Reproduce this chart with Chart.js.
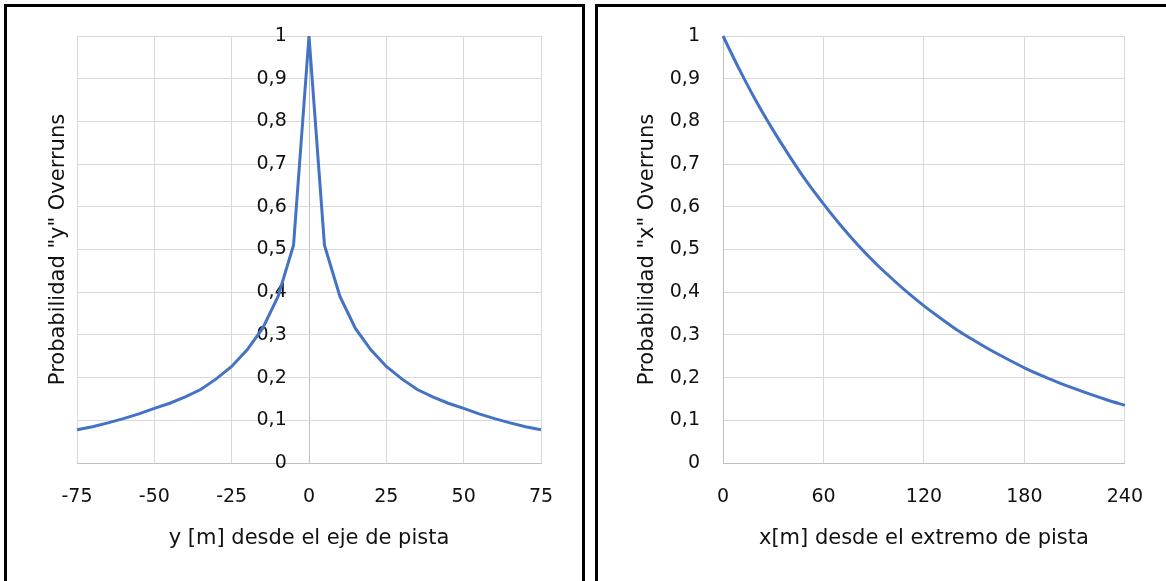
<!DOCTYPE html>
<html>
<head>
<meta charset="utf-8">
<script src="https://cdn.jsdelivr.net/npm/chart.js@4/dist/chart.umd.min.js"></script>
<style>
  html, body { margin: 0; padding: 0; background: #fff; overflow: hidden; }
  .box { position: absolute; top: 4px; border: 3px solid #000; background: #fff; }
  #boxY { left: 4px; width: 575px; height: 600px; }
  #boxX { left: 595px; width: 600px; height: 600px; }
  canvas { display: block; }
</style>
</head>
<body>
<div class="box" id="boxY"><canvas id="chartY" width="575" height="574"></canvas></div>
<div class="box" id="boxX"><canvas id="chartX" width="568" height="574"></canvas></div>
<script>
// Lateral distance from the runway centreline [m] and probability of an overrun reaching it
const lateralDist = [-75, -70, -65, -60, -55, -50, -45, -40, -35, -30, -25, -20, -15, -10, -5, 0,
                     5, 10, 15, 20, 25, 30, 35, 40, 45, 50, 55, 60, 65, 70, 75];
const lateralProb = [0.078, 0.085, 0.094, 0.104, 0.115, 0.128, 0.140, 0.155, 0.172, 0.197, 0.226, 0.265, 0.315, 0.390, 0.510, 1.000,
                     0.510, 0.390, 0.315, 0.265, 0.226, 0.197, 0.172, 0.155, 0.140, 0.128, 0.115, 0.104, 0.094, 0.085, 0.078];

// Longitudinal distance past the runway end [m] and probability of an overrun reaching it
const longDist = [0, 10, 20, 30, 40, 50, 60, 70, 80, 90, 100, 110, 120,
                  130, 140, 150, 160, 170, 180, 190, 200, 210, 220, 230, 240];
const longProb = [1.000, 0.920, 0.846, 0.779, 0.717, 0.659, 0.607, 0.558, 0.513, 0.472, 0.435, 0.400, 0.368,
                  0.339, 0.311, 0.287, 0.264, 0.243, 0.223, 0.205, 0.189, 0.174, 0.160, 0.147, 0.135];

// Axis tick values
const probTicks = [0, 0.1, 0.2, 0.3, 0.4, 0.5, 0.6, 0.7, 0.8, 0.9, 1];
const lateralTicks = [-75, -50, -25, 0, 25, 50, 75];
const longTicks = [0, 60, 120, 180, 240];

const yTitleLateral = 'Probabilidad "y" Overruns';
const yTitleLong = 'Probabilidad "x" Overruns';
const xTitleLateral = 'y [m] desde el eje de pista';
const xTitleLong = 'x[m] desde el extremo de pista';

const FAMILY = '"DejaVu Sans", "Open Sans", sans-serif';
const TICK_FONT = { family: FAMILY, size: 19 };
const TITLE_FONT = { family: FAMILY, size: 21 };
const TEXT = '#111111';
const GRID = '#d9d9d9';
const AXIS = '#bfbfbf';
const LINE = '#4472c4';
const NONE = 'rgba(0,0,0,0)';

const commaNum = v => String(Math.round(v * 10) / 10).replace('.', ',');
const toPoints = (xs, ys) => xs.map((x, i) => ({ x: x, y: ys[i] }));
const fixedTicks = list => scale => { scale.ticks = list.map(v => ({ value: v })); };
const gridColor = c => (c.tick && c.tick.value === 0 ? AXIS : GRID);

Chart.defaults.font = TICK_FONT;
Chart.defaults.color = TEXT;

// Lateral distribution: probability labels sit just left of the centreline (y = 0)
new Chart(document.getElementById('chartY'), {
  type: 'scatter',
  data: {
    datasets: [{
      data: toPoints(lateralDist, lateralProb),
      showLine: true,
      borderColor: LINE,
      borderWidth: 3,
      pointRadius: 0,
      tension: 0,
      clip: 6
    }]
  },
  options: {
    responsive: false,
    animation: false,
    layout: { padding: { top: 29, right: 41, left: 0, bottom: 0 } },
    plugins: { legend: { display: false }, tooltip: { enabled: false } },
    scales: {
      x: {
        type: 'linear', position: 'bottom',
        min: -75, max: 75,
        afterBuildTicks: fixedTicks(lateralTicks),
        afterFit: s => { s.height = 118; },
        grid: { color: gridColor, lineWidth: 1, drawTicks: false },
        border: { display: true, color: AXIS, width: 1 },
        ticks: { padding: 23, maxRotation: 0, color: TEXT, font: TICK_FONT, callback: v => String(v) },
        title: { display: true, text: xTitleLateral, color: TEXT, font: TITLE_FONT, padding: { top: 0, bottom: 30 } }
      },
      y: {
        type: 'linear', position: { x: -7.2 },
        min: 0, max: 1,
        afterBuildTicks: fixedTicks(probTicks),
        grid: { color: gridColor, lineWidth: 1, drawTicks: false },
        border: { display: false },
        ticks: { padding: 0, color: TEXT, font: TICK_FONT, callback: commaNum }
      },
      yTitle: {
        type: 'linear', position: 'left',
        min: 0, max: 1,
        afterFit: s => { s.width = 70; },
        grid: { display: false, drawTicks: false },
        border: { display: false },
        ticks: { display: false },
        title: { display: true, text: yTitleLateral, color: TEXT, font: TITLE_FONT, padding: { top: 39, bottom: 0 } }
      }
    }
  }
});

// Longitudinal distribution past the runway end
new Chart(document.getElementById('chartX'), {
  type: 'scatter',
  data: {
    datasets: [{
      data: toPoints(longDist, longProb),
      showLine: true,
      borderColor: LINE,
      borderWidth: 3,
      pointRadius: 0,
      cubicInterpolationMode: 'monotone',
      clip: 6
    }]
  },
  options: {
    responsive: false,
    animation: false,
    layout: { padding: { top: 29, right: 41, left: 0, bottom: 0 } },
    plugins: { legend: { display: false }, tooltip: { enabled: false } },
    scales: {
      x: {
        type: 'linear', position: 'bottom',
        min: 0, max: 240,
        afterBuildTicks: fixedTicks(longTicks),
        afterFit: s => { s.height = 118; },
        grid: { color: gridColor, lineWidth: 1, drawTicks: false },
        border: { display: true, color: AXIS, width: 1 },
        ticks: { padding: 23, maxRotation: 0, color: TEXT, font: TICK_FONT, callback: v => String(v) },
        title: { display: true, text: xTitleLong, color: TEXT, font: TITLE_FONT, padding: { top: 0, bottom: 30 } }
      },
      y: {
        type: 'linear', position: 'left',
        min: 0, max: 1,
        afterBuildTicks: fixedTicks(probTicks),
        afterFit: s => { s.width = 125; },
        grid: { color: gridColor, lineWidth: 1, drawTicks: true, tickLength: 23, tickColor: NONE },
        border: { display: true, color: AXIS, width: 1 },
        ticks: { padding: 0, color: TEXT, font: TICK_FONT, callback: commaNum },
        title: { display: true, text: yTitleLong, color: TEXT, font: TITLE_FONT, padding: { top: 37, bottom: 0 } }
      }
    }
  }
});
</script>
</body>
</html>
